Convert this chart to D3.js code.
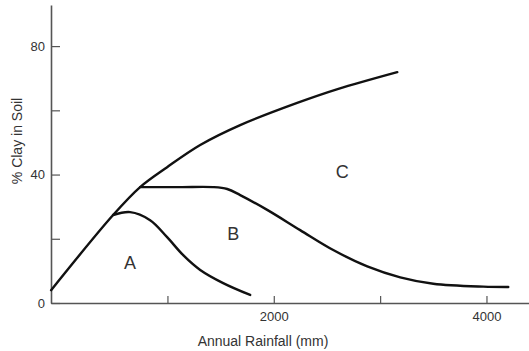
<!DOCTYPE html>
<html>
<head>
<meta charset="utf-8">
<script src="https://cdn.jsdelivr.net/npm/d3@7"></script>
<style>
  body { margin: 0; background: #fff; }
  text { font-family: "Liberation Sans", Arial, sans-serif; fill: #333; }
</style>
</head>
<body>
<script>
// data (rainfall mm, % clay)
const upperRain = [-94, 489, 743, 997, 1308, 1684, 2220, 2600, 3161];
const upperClay = [4.0, 27.4, 36.1, 42.3, 49.2, 55.4, 62.3, 66.6, 71.9];

const aRain = [489, 649, 837, 997, 1148, 1308, 1524, 1778];
const aClay = [27.4, 28.3, 25.8, 20.5, 14.9, 10.3, 6.2, 2.5];

const bRain = [743, 1119, 1430, 1562, 1684, 1938, 2248, 2559, 2879, 3189, 3500, 3970, 4205];
const bClay = [36.1, 36.1, 36.1, 35.5, 33.6, 29.0, 22.7, 16.5, 11.4, 8.0, 6.0, 5.1, 5.0];

const regionNames = ["A", "B", "C"];
const regionRain = [649, 1618, 2643];
const regionClay = [12.5, 21.5, 40.8];

const xTicks = [1000, 2000, 3000, 4000];
const xLabelled = [2000, 4000];
const yTicks = [0, 20, 40, 60, 80];
const yLabelled = [0, 40, 80];

const W = 529, H = 351;
const svg = d3.select("body").append("svg")
    .attr("width", W)
    .attr("height", H);

var xScale = d3.scaleLinear().domain([-95, 4400]).range([51, 529]);
var yScale = d3.scaleLinear().domain([0, 92.8]).range([303, 5]);

var xAxis = d3.axisBottom(xScale)
    .tickValues(xTicks)
    .tickSizeInner(-7)
    .tickSizeOuter(0)
    .tickPadding(9)
    .tickFormat(d => xLabelled.includes(d) ? d : "");

var yAxis = d3.axisLeft(yScale)
    .tickValues(yTicks)
    .tickSizeInner(-9)
    .tickSizeOuter(0)
    .tickPadding(6)
    .tickFormat(d => yLabelled.includes(d) ? d : "");

const gx = svg.append("g")
    .attr("transform", "translate(0," + yScale(0) + ")")
    .call(xAxis);
const gy = svg.append("g")
    .attr("transform", "translate(" + xScale.range()[0] + ",0)")
    .call(yAxis);

[gx, gy].forEach(g => {
    g.attr("font-size", 13).attr("font-family", null);
    g.select(".domain").attr("stroke", "#555").attr("stroke-width", 1.6);
    g.selectAll(".tick line").attr("stroke", "#555").attr("stroke-width", 1.2);
    g.selectAll(".tick text").attr("fill", "#333");
});

// axis titles
svg.append("text")
    .attr("x", 263)
    .attr("y", 346)
    .attr("text-anchor", "middle")
    .attr("font-size", 14)
    .text("Annual Rainfall (mm)");

svg.append("text")
    .attr("transform", "translate(22,141) rotate(-90)")
    .attr("text-anchor", "middle")
    .attr("font-size", 14)
    .text("% Clay in Soil");

// curves
var line = d3.line()
    .x(d => xScale(d[0]))
    .y(d => yScale(d[1]))
    .curve(d3.curveCatmullRom.alpha(0.5));

const curves = [
    d3.zip(upperRain, upperClay),
    d3.zip(aRain, aClay),
    d3.zip(bRain, bClay)
];

svg.selectAll(".curve")
    .data(curves)
    .enter()
    .append("path")
    .attr("class", "curve")
    .attr("d", line)
    .attr("fill", "none")
    .attr("stroke", "#111")
    .attr("stroke-width", 2.4)
    .attr("stroke-linecap", "round");

// region letters
svg.selectAll(".region")
    .data(regionNames)
    .enter()
    .append("text")
    .attr("class", "region")
    .attr("x", (d, i) => xScale(regionRain[i]))
    .attr("y", (d, i) => yScale(regionClay[i]))
    .attr("dy", "0.35em")
    .attr("text-anchor", "middle")
    .attr("font-size", 18)
    .text(d => d);
</script>
</body>
</html>
